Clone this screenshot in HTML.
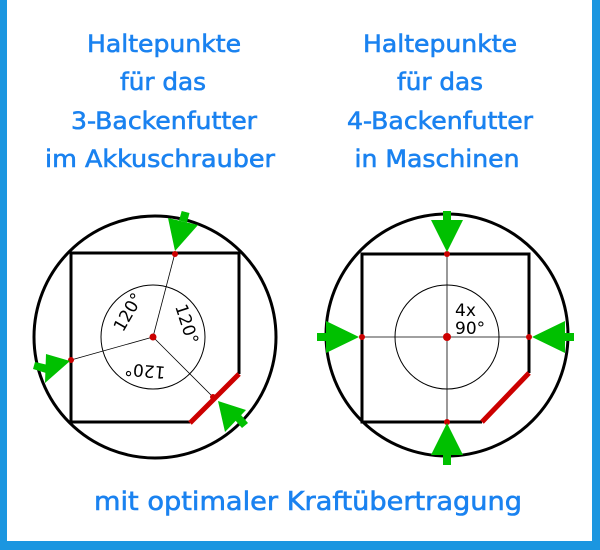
<!DOCTYPE html>
<html><head><meta charset="utf-8"><style>
html,body{margin:0;padding:0;background:#fff}
svg{display:block}
</style></head><body>
<svg width="600" height="550" viewBox="0 0 600 550" xmlns="http://www.w3.org/2000/svg">
<rect x="0" y="0" width="600" height="550" fill="#fff"/>
<rect x="0" y="0" width="7" height="550" fill="#1b96e0"/>
<rect x="592" y="0" width="8" height="550" fill="#1b96e0"/>
<rect x="0" y="541" width="600" height="9" fill="#1b96e0"/>
<g font-family="DejaVu Sans, Liberation Sans, sans-serif" font-size="24" fill="#1a82f0" stroke="#1a82f0" stroke-width="0.6" text-anchor="middle">
<text x="164" y="52" textLength="154" lengthAdjust="spacingAndGlyphs">Haltepunkte</text>
<text x="163" y="90" textLength="86" lengthAdjust="spacingAndGlyphs">für das</text>
<text x="164" y="129" textLength="186" lengthAdjust="spacingAndGlyphs">3-Backenfutter</text>
<text x="160" y="167" textLength="230" lengthAdjust="spacingAndGlyphs">im Akkuschrauber</text>
<text x="440" y="52" textLength="154" lengthAdjust="spacingAndGlyphs">Haltepunkte</text>
<text x="440" y="90" textLength="86" lengthAdjust="spacingAndGlyphs">für das</text>
<text x="440" y="129" textLength="186" lengthAdjust="spacingAndGlyphs">4-Backenfutter</text>
<text x="437" y="167" textLength="165" lengthAdjust="spacingAndGlyphs">in Maschinen</text>
<text x="308" y="510" font-size="26" textLength="428" lengthAdjust="spacingAndGlyphs">mit optimaler Kraftübertragung</text>
</g>
<!-- left diagram -->
<g fill="none" stroke="#000">
<circle cx="155" cy="337" r="121" stroke-width="3"/>
<polyline points="190,422 71,422 71,253 239,253 239,374" stroke-width="3"/>
<circle cx="153" cy="337" r="52" stroke-width="1"/>
<line x1="153" y1="337" x2="175" y2="253" stroke-width="0.8"/>
<line x1="153" y1="337" x2="71" y2="360" stroke-width="0.8"/>
<line x1="153" y1="337" x2="213" y2="397" stroke-width="0.8"/>
</g>
<line x1="190" y1="423" x2="239" y2="374" stroke="#c00" stroke-width="5"/>
<g fill="#c00"><circle cx="153" cy="337" r="3.5"/><circle cx="175" cy="254" r="3"/><circle cx="71" cy="360" r="3"/><circle cx="213" cy="397" r="3"/></g>
<g font-family="DejaVu Sans, Liberation Sans, sans-serif" font-size="17" fill="#000" text-anchor="middle">
<text transform="translate(128,312) rotate(-60)" y="6">120°</text>
<text transform="translate(187,324) rotate(72)" y="6">120°</text>
<text transform="translate(145,371) rotate(185)" y="6">120°</text>
</g>
<g fill="#00c000">
<polygon points="168,218 198,225 175,251"/>
<polygon points="179,220.5 187,222.5 189.5,213 181.7,211"/>
<polygon points="46,354 70,361 45,383"/>
<polygon points="33,369 46,373 48,365 35,362"/>
<polygon points="218,401 246,410 225,432"/>
<polygon points="235,420 241,415 248,423 242,428"/>
</g>
<!-- right diagram -->
<g fill="none" stroke="#000">
<circle cx="447" cy="335" r="121" stroke-width="3"/>
<polyline points="482,422 362,422 362,254 529,254 529,373" stroke-width="3"/>
<circle cx="447" cy="337" r="52" stroke-width="1"/>
<line x1="447" y1="254" x2="447" y2="422" stroke-width="0.8"/>
<line x1="362" y1="337" x2="529" y2="337" stroke-width="0.8"/>
</g>
<line x1="482" y1="422" x2="529" y2="373" stroke="#c00" stroke-width="5"/>
<g fill="#c00"><circle cx="447" cy="337" r="4"/><circle cx="447" cy="254" r="3"/><circle cx="447" cy="422" r="3"/><circle cx="362" cy="337" r="3"/><circle cx="529" cy="337" r="3"/></g>
<g font-family="DejaVu Sans, Liberation Sans, sans-serif" font-size="17" fill="#000">
<text x="455" y="316">4x</text>
<text x="455" y="334">90°</text>
</g>
<g fill="#00c000">
<polygon points="431,220 463,220 447,252"/><rect x="443" y="211" width="8" height="10"/>
<polygon points="431,455 463,455 447,423"/><rect x="443" y="454" width="8" height="11"/>
<polygon points="326,321 326,353 359,337"/><rect x="317" y="333" width="10" height="8"/>
<polygon points="565,321 565,353 532,337"/><rect x="564" y="333" width="10" height="8"/>
</g>
</svg>
</body></html>
